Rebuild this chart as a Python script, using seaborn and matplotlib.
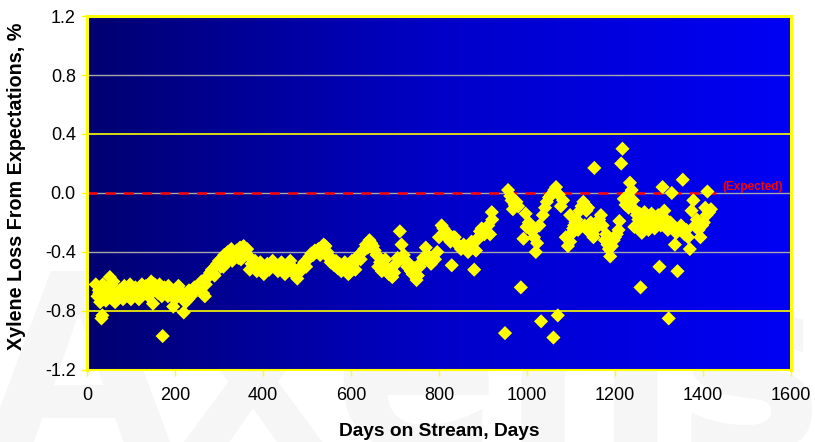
import numpy as np
import pandas as pd
import matplotlib
matplotlib.use("Agg")
import matplotlib.pyplot as plt
import seaborn as sns
from matplotlib.colors import LinearSegmentedColormap

# ---------------- data ----------------
days_early = [20, 24, 27, 30, 33, 35, 38, 40, 43, 46, 49, 52, 55, 58, 61, 64, 67, 70, 74, 78,
              82, 86, 90, 94, 98, 102, 106, 110, 114, 118, 122, 126, 130, 134, 138, 142, 146,
              150, 154, 158, 162, 166, 170, 172, 176, 180, 184, 188, 192, 196, 200, 204, 208,
              212, 216, 220, 224, 228, 232, 236, 240, 244, 248,
              28, 36, 45, 60, 85, 100, 125, 140, 165, 185, 205, 230]
loss_early = [-0.62, -0.70, -0.66, -0.74, -0.85, -0.83, -0.72, -0.68, -0.73, -0.70, -0.64, -0.57,
              -0.62, -0.72, -0.69, -0.74, -0.68, -0.71, -0.66, -0.70, -0.72, -0.68, -0.65, -0.70,
              -0.62, -0.67, -0.69, -0.64, -0.66, -0.72, -0.68, -0.65, -0.67, -0.63, -0.66, -0.64,
              -0.60, -0.75, -0.62, -0.65, -0.68, -0.66, -0.70, -0.97, -0.64, -0.67, -0.70, -0.66,
              -0.68, -0.77, -0.72, -0.65, -0.63, -0.66, -0.70, -0.81, -0.74, -0.68, -0.66, -0.70,
              -0.67, -0.64, -0.66,
              -0.68, -0.62, -0.66, -0.60, -0.63, -0.72, -0.62, -0.70, -0.62, -0.63, -0.69, -0.72]

days_rise = [252, 256, 260, 264, 268, 272, 276, 280, 284, 288, 292, 296, 300, 304, 308, 312, 316,
             320, 324, 328, 332, 336, 340, 344, 348, 352, 356, 360, 364, 368,
             270, 290, 310, 330, 350]
loss_rise = [-0.64, -0.62, -0.60, -0.68, -0.70, -0.58, -0.56, -0.54, -0.52, -0.55, -0.50, -0.48,
             -0.46, -0.50, -0.44, -0.42, -0.47, -0.40, -0.43, -0.38, -0.45, -0.41, -0.39, -0.44,
             -0.37, -0.42, -0.36, -0.40, -0.38, -0.43,
             -0.62, -0.56, -0.50, -0.46, -0.45]

days_mid = [370, 374, 378, 382, 386, 390, 394, 398, 402, 406, 410, 414, 418, 422, 426, 430, 434,
            438, 442, 446, 450, 454, 458, 462, 466, 470, 474, 478, 482, 486, 490, 494, 498, 502,
            506, 510, 514, 518, 522, 526, 530, 534, 538, 542, 546, 550, 554, 558, 562, 566, 570,
            574, 578, 582, 586, 590, 594, 598, 602]
loss_mid = [-0.52, -0.48, -0.50, -0.46, -0.53, -0.49, -0.47, -0.51, -0.55, -0.50, -0.48, -0.52,
            -0.50, -0.46, -0.48, -0.51, -0.53, -0.49, -0.47, -0.52, -0.55, -0.50, -0.48, -0.46,
            -0.50, -0.53, -0.56, -0.58, -0.54, -0.51, -0.49, -0.47, -0.50, -0.45, -0.43, -0.41,
            -0.42, -0.39, -0.40, -0.38, -0.42, -0.37, -0.35, -0.36, -0.40, -0.44, -0.47, -0.45,
            -0.49, -0.46, -0.51, -0.48, -0.53, -0.50, -0.47, -0.52, -0.55, -0.50, -0.46]

days_late = [606, 610, 614, 618, 622, 626, 630, 634, 638, 642, 646, 650, 654, 658, 662, 666, 670,
             674, 678, 682, 686, 690, 694, 698, 702, 706, 711, 715, 720, 724, 728, 732, 736, 740,
             744, 749, 752, 756, 760, 764, 770, 774, 778, 782, 786, 791, 796, 800, 806, 810, 814,
             818, 822, 826, 829, 833, 836, 840, 846, 850, 856, 860, 866, 870, 874, 880, 884, 886,
             890, 893, 897, 903]
loss_late = [-0.48, -0.52, -0.44, -0.42, -0.45, -0.40, -0.38, -0.35, -0.37, -0.32, -0.34, -0.36,
             -0.39, -0.42, -0.50, -0.47, -0.53, -0.49, -0.45, -0.51, -0.55, -0.52, -0.57, -0.54,
             -0.48, -0.44, -0.26, -0.35, -0.42, -0.46, -0.50, -0.48, -0.53, -0.55, -0.51, -0.59,
             -0.56, -0.50, -0.47, -0.44, -0.37, -0.42, -0.46, -0.48, -0.45, -0.45, -0.40, -0.30,
             -0.22, -0.24, -0.27, -0.30, -0.28, -0.33, -0.49, -0.30, -0.30, -0.34, -0.36, -0.38,
             -0.35, -0.37, -0.40, -0.38, -0.33, -0.52, -0.39, -0.32, -0.30, -0.26, -0.24, -0.28]

days_scatter1 = [912, 916, 920, 921, 950, 957, 962, 965, 968, 972, 976, 980, 986, 992, 997, 999,
                 1004, 1008, 1012, 1016, 1020, 1023, 1028, 1032, 1036, 1041, 1045, 1050, 1055,
                 1060, 1062, 1066, 1070, 1072, 1077, 1082, 1088, 1093, 1098, 1100, 1102, 1105,
                 1107, 1110, 1112, 1098, 1116, 1120, 1124, 1128, 1132, 1135, 1139, 1131, 1140,
                 1145, 1150, 1153, 1156, 1160]
loss_scatter1 = [-0.22, -0.28, -0.13, -0.18, -0.95, 0.02, -0.02, -0.05, -0.11, -0.08, -0.06, -0.09,
                 -0.64, -0.31, -0.14, -0.23, -0.20, -0.25, -0.26, -0.30, -0.40, -0.34, -0.22, -0.87,
                 -0.15, -0.10, -0.06, -0.03, -0.01, -0.98, 0.02, 0.04, -0.83, -0.01, -0.09, -0.05,
                 -0.30, -0.36, -0.33, -0.28, -0.27, -0.24, -0.22, -0.20, -0.18, -0.15, -0.25, -0.12,
                 -0.09, -0.06, -0.08, -0.12, -0.10, -0.22, -0.26, -0.20, -0.28, 0.17, -0.24, -0.21]

days_scatter2 = [1151, 1164, 1168, 1172, 1177, 1180, 1183, 1186, 1189, 1193, 1197, 1200, 1204,
                 1208, 1210, 1214, 1217, 1220, 1224, 1228, 1231, 1234, 1238, 1241, 1244, 1247,
                 1250, 1253, 1256, 1258, 1261, 1264, 1267, 1270, 1273, 1276, 1280, 1283, 1287,
                 1290, 1294, 1298, 1301, 1304, 1308, 1312, 1316, 1320, 1322, 1326, 1329, 1333,
                 1336, 1339, 1342, 1346, 1350, 1354, 1358, 1362, 1366, 1370, 1374, 1378, 1382,
                 1386, 1390, 1394, 1398, 1402, 1405, 1408, 1410, 1414, 1418]
loss_scatter2 = [-0.30, -0.18, -0.15, -0.22, -0.32, -0.28, -0.35, -0.38, -0.43, -0.36, -0.32,
                 -0.30, -0.28, -0.25, -0.19, 0.20, 0.30, -0.04, -0.08, -0.02, -0.10, 0.07, 0.02,
                 -0.05, -0.23, -0.12, -0.15, -0.18, -0.14, -0.64, -0.27, -0.20, -0.13, -0.17,
                 -0.22, -0.25, -0.19, -0.14, -0.20, -0.24, -0.18, -0.15, -0.50, -0.22, 0.04,
                 -0.12, -0.18, -0.25, -0.85, -0.20, 0.00, -0.24, -0.35, -0.27, -0.53, -0.24,
                 -0.22, 0.09, -0.28, -0.25, -0.30, -0.38, -0.12, -0.05, -0.22, -0.18, -0.25,
                 -0.30, -0.22, -0.20, -0.10, -0.15, 0.01, -0.13, -0.11]

expected_days = [0, 1430]
expected_loss = [0.0, 0.0]

x_ticks = [0, 200, 400, 600, 800, 1000, 1200, 1400, 1600]
y_ticks = [-1.2, -0.8, -0.4, 0.0, 0.4, 0.8, 1.2]
y_tick_labels = ["-1.2", "-0.8", "-0.4", "0.0", "0.4", "0.8", "1.2"]
grey_grid = [0.8, 0.0, -0.4]
yellow_grid = [0.4, -0.8]

df = pd.DataFrame({
    "day": days_early + days_rise + days_mid + days_late + days_scatter1 + days_scatter2,
    "loss": loss_early + loss_rise + loss_mid + loss_late + loss_scatter1 + loss_scatter2,
})

# ---------------- figure ----------------
sns.set_theme(style="white")
plt.rcParams["font.family"] = ["Liberation Sans", "DejaVu Sans"]

fig = plt.figure(figsize=(8.15, 4.42), dpi=100)
fig.patch.set_facecolor("white")

# faint watermark (logo)
fig.text(0.495, -0.02, "Axens", fontsize=178, fontweight="bold", color="#f6f6f6",
         ha="center", va="baseline", zorder=-5, family="DejaVu Sans")

ax = fig.add_axes([0.1067, 0.1629, 0.8639, 0.8009])

# background gradient
cmap = LinearSegmentedColormap.from_list("bg", ["#000070", "#0000c8", "#0000f5"])
grad = np.linspace(0, 1, 256).reshape(1, -1)
ax.imshow(grad, extent=[0, 1, 0, 1], transform=ax.transAxes, aspect="auto",
          cmap=cmap, zorder=0)

for g in grey_grid:
    ax.axhline(g, color="#a8a8a8", lw=1.0, zorder=1)
for g in yellow_grid:
    ax.axhline(g, color="#ffff00", lw=1.2, zorder=1)

ax.plot(expected_days, expected_loss, color="#ff0000", lw=1.8, ls=(0, (4, 3.3)), zorder=2)
ax.text(1443, 0.0, "(Expected)", color="#ff0000", fontsize=8.5, fontweight="bold",
        ha="left", va="bottom", zorder=3)

sns.scatterplot(data=df, x="day", y="loss", marker="D", s=52, color="#ffff00",
                edgecolor="none", linewidth=0, ax=ax, zorder=4)

ax.set_xlim(0, 1600)
ax.set_ylim(-1.2, 1.2)
ax.set_xticks(x_ticks)
ax.set_xticklabels([str(t) for t in x_ticks])
ax.set_yticks(y_ticks)
ax.set_yticklabels(y_tick_labels)
ax.tick_params(axis="both", which="major", direction="out", length=4, width=1,
               color="#ffff00", labelsize=13, labelcolor="black", pad=4,
               bottom=True, left=True)
ax.tick_params(axis="x", pad=8)

for side in ["top", "right", "left", "bottom"]:
    ax.spines[side].set_color("#ffff00")
    ax.spines[side].set_linewidth(2.2)
    ax.spines[side].set_visible(True)
ax.spines["bottom"].set_linewidth(1.5)

ax.set_xlabel("Days on Stream, Days", fontsize=13.8, fontweight="bold", color="black")
ax.set_ylabel("Xylene Loss From Expectations, %", fontsize=14.2, fontweight="bold",
              color="black")
ax.xaxis.set_label_coords(0.5, -0.15)
ax.yaxis.set_label_coords(-0.086, 0.52)

fig.savefig("out.png", dpi=100, facecolor="white")
